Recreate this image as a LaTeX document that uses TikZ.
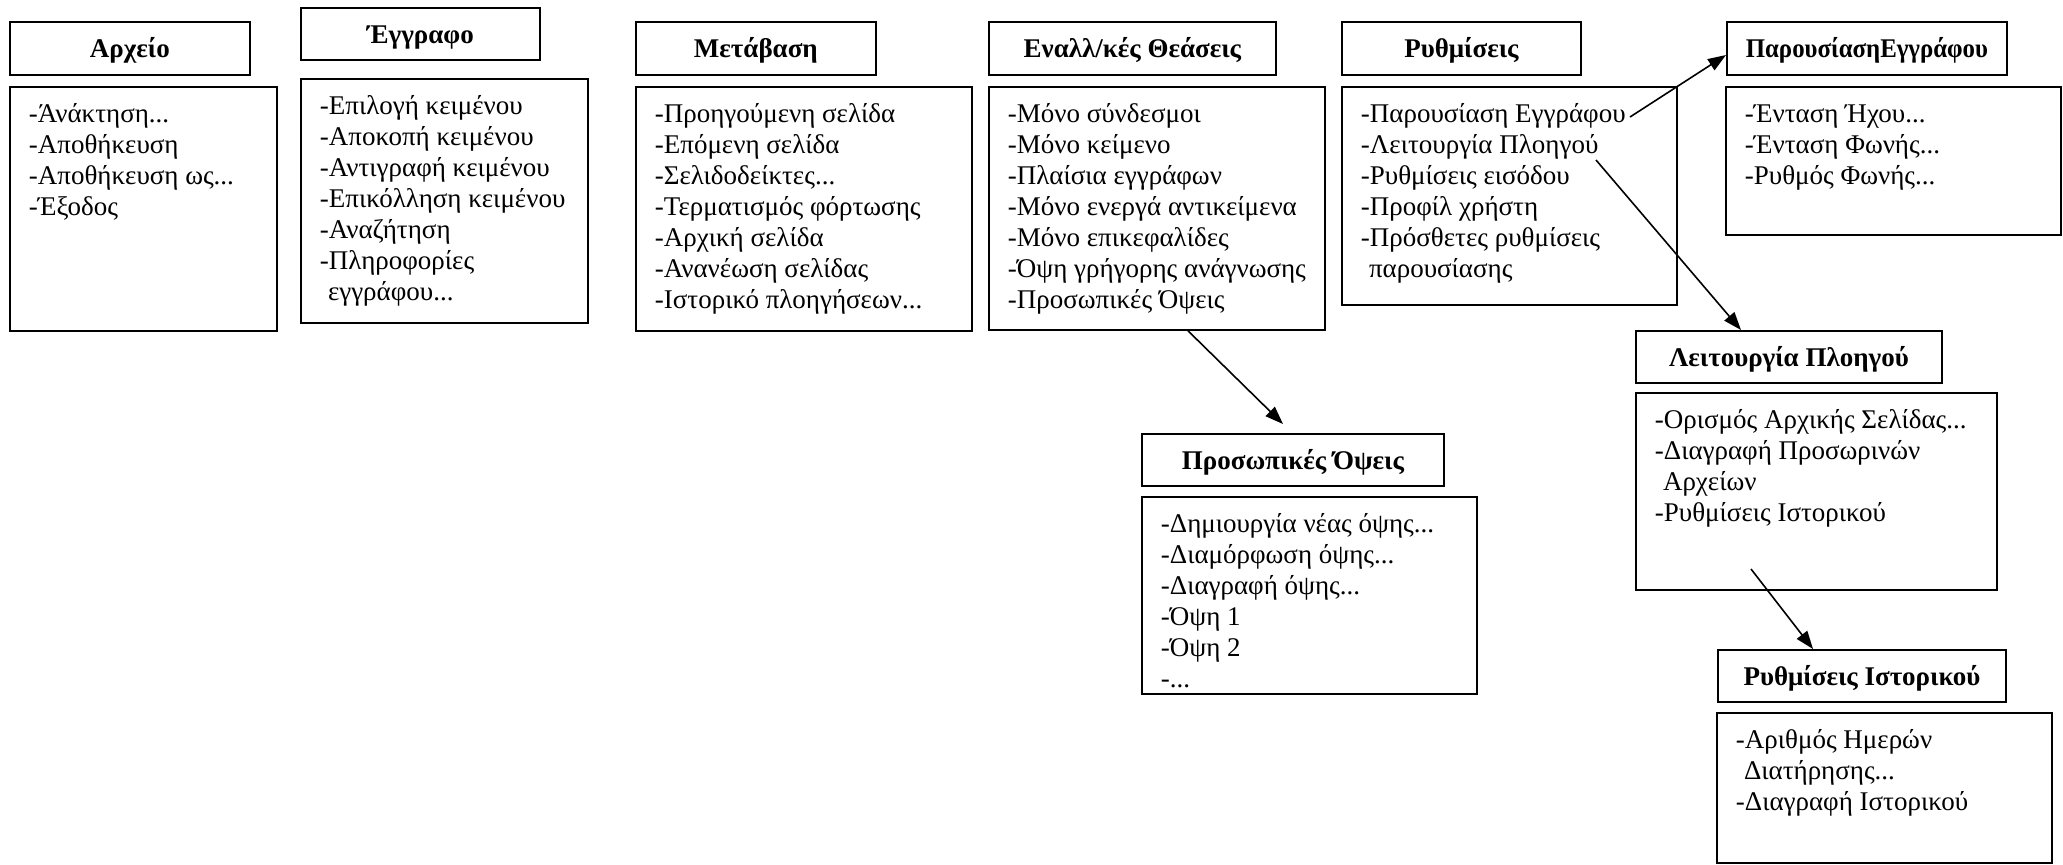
\documentclass[tikz,border=0pt]{standalone}
\usepackage{fontspec}
\setmainfont{Liberation Serif}
\usetikzlibrary{arrows.meta,calc}
\newcommand\menutext[3]{\begin{minipage}[t][#2][t]{#1}\raggedright\setlength{\leftskip}{9.5pt}\fontsize{13.5}{15.5}\selectfont\rule{0pt}{18pt}#3\end{minipage}}
\newcommand\cont{\hspace*{0.3em}}
\tikzset{
  ttl/.style={draw, line width=0.9pt, inner sep=0pt, anchor=north west, text height=11.6pt, text depth=2.5pt, font=\fontsize{13.5}{15}\selectfont\bfseries},
  lst/.style={draw, line width=0.9pt, inner sep=0pt, anchor=north west},
  arr/.style={line width=0.8pt, -{Triangle[length=9pt,width=6.5pt]}}
}
\begin{document}
\begin{tikzpicture}[x=0.5pt,y=-0.5pt]
\useasboundingbox (0,0) rectangle (2063,864);
% Αρχείο
\node[ttl, minimum width=120pt, minimum height=26.5pt] (At) at (9,21) {Αρχείο};
\node[lst] (Al) at (9,86) {\menutext{133.5pt}{122pt}{-Άνάκτηση...\\-Αποθήκευση\\-Αποθήκευση ως...\\-Έξοδος}};
% Έγγραφο
\node[ttl, minimum width=119.5pt, minimum height=26pt] (Et) at (300,7) {Έγγραφο};
\node[lst] (El) at (300,78) {\menutext{143.5pt}{122pt}{-Επιλογή κειμένου\\-Αποκοπή κειμένου\\-Αντιγραφή κειμένου\\-Επικόλληση κειμένου\\-Αναζήτηση\\-Πληροφορίες\\\cont εγγράφου...}};
% Μετάβαση
\node[ttl, minimum width=120pt, minimum height=26.5pt] (Mt) at (635,21) {Μετάβαση};
\node[lst] (Ml) at (635,86) {\menutext{168pt}{122pt}{-Προηγούμενη σελίδα\\-Επόμενη σελίδα\\-Σελιδοδείκτες...\\-Τερματισμός φόρτωσης\\-Αρχική σελίδα\\-Ανανέωση σελίδας\\-Ιστορικό πλοηγήσεων...}};
% Εναλλ/κές Θεάσεις
\node[ttl, minimum width=143.5pt, minimum height=26.5pt] (Vt) at (988,21) {Εναλλ/κές Θεάσεις};
\node[lst] (Vl) at (988,86) {\menutext{168pt}{121.5pt}{-Μόνο σύνδεσμοι\\-Μόνο κείμενο\\-Πλαίσια εγγράφων\\-Μόνο ενεργά αντικείμενα\\-Μόνο επικεφαλίδες\\-Όψη γρήγορης ανάγνωσης\\-Προσωπικές Όψεις}};
% Ρυθμίσεις
\node[ttl, minimum width=119.5pt, minimum height=26.5pt] (Rt) at (1341,21) {Ρυθμίσεις};
\node[lst] (Rl) at (1341,86) {\menutext{167.5pt}{109pt}{-Παρουσίαση Εγγράφου\\-Λειτουργία Πλοηγού\\-Ρυθμίσεις εισόδου\\-Προφίλ χρήστη\\-Πρόσθετες ρυθμίσεις\\\cont παρουσίασης}};
% ΠαρουσίασηΕγγράφου
\node[ttl, minimum width=140pt, minimum height=26.5pt] (Pt) at (1726,21) {\scalebox{0.92}[1]{ΠαρουσίασηΕγγράφου}};
\node[lst] (Pl) at (1725,86) {\menutext{167.5pt}{74pt}{-Ένταση Ήχου...\\-Ένταση Φωνής...\\-Ρυθμός Φωνής...}};
% Λειτουργία Πλοηγού
\node[ttl, minimum width=153pt, minimum height=26pt] (Lt) at (1635,330) {Λειτουργία Πλοηγού};
\node[lst] (Ll) at (1635,392) {\menutext{180.5pt}{98.5pt}{-Ορισμός Αρχικής Σελίδας...\\-Διαγραφή Προσωρινών\\\cont Αρχείων\\-Ρυθμίσεις Ιστορικού}};
% Προσωπικές Όψεις
\node[ttl, minimum width=151pt, minimum height=26pt] (Ot) at (1141,433) {Προσωπικές Όψεις};
\node[lst] (Ol) at (1141,496) {\menutext{167.5pt}{98.5pt}{-Δημιουργία νέας όψης...\\-Διαμόρφωση όψης...\\-Διαγραφή όψης...\\-Όψη 1\\-Όψη 2\\-...}};
% Ρυθμίσεις Ιστορικού
\node[ttl, minimum width=144pt, minimum height=26pt] (Ht) at (1717,649) {Ρυθμίσεις Ιστορικού};
\node[lst] (Hl) at (1716,712) {\menutext{167.5pt}{75pt}{-Αριθμός Ημερών\\\cont Διατήρησης...\\-Διαγραφή Ιστορικού}};
% connectors
\coordinate (a1s) at ($(Vl.south west)+(200,0)$);
\coordinate (a1e) at ($(Ot.north west)+(142,-9)$);
\coordinate (a2s) at ($(Rl.north west)+(289,31)$);
\coordinate (a2e) at ($(Pt.north west)+(0,34)$);
\coordinate (a3s) at ($(Rl.north west)+(255,74)$);
\coordinate (a3e) at ($(Lt.north west)+(106,0)$);
\coordinate (a4s) at ($(Ll.north west)+(116,177)$);
\coordinate (a4e) at ($(Ht.north west)+(96,0)$);
\draw[arr] (a1s) -- (a1e);
\draw[arr] (a2s) -- (a2e);
\draw[arr] (a3s) -- (a3e);
\draw[arr] (a4s) -- (a4e);
\end{tikzpicture}
\end{document}
